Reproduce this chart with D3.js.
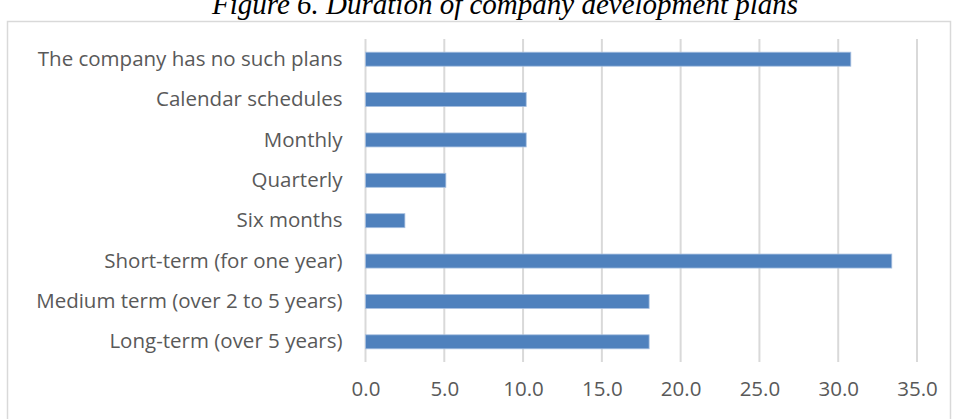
<!DOCTYPE html>
<html>
<head>
<meta charset="utf-8">
<script src="https://cdn.jsdelivr.net/npm/d3@7"></script>
<style>
  body { margin: 0; background: #fff; }
  svg { display: block; }
</style>
</head>
<body>
<div id="chart"></div>
<script>
// duration of company development plans (share of companies, %)
var categories = [
  'The company has no such plans',
  'Calendar schedules',
  'Monthly',
  'Quarterly',
  'Six months',
  'Short-term (for one year)',
  'Medium term (over 2 to 5 years)',
  'Long-term (over 5 years)'
];
var values = [30.8, 10.2, 10.2, 5.1, 2.5, 33.4, 18.0, 18.0];
var tickValues = [0, 5, 10, 15, 20, 25, 30, 35];

var width = 956, height = 419;
var margin = { top: 39, right: 39, bottom: 57, left: 365.5 };

var svg = d3.select('#chart').append('svg')
    .attr('width', width)
    .attr('height', height);

// chart frame
svg.append('rect')
    .attr('x', 7.5)
    .attr('y', 21.5)
    .attr('width', 943)
    .attr('height', 420)
    .attr('fill', 'none')
    .attr('stroke', '#d9d9d9')
    .attr('stroke-width', 1.5);

// title, cropped at the top as in the source page
svg.append('text')
    .attr('x', 505)
    .attr('y', 14)
    .attr('text-anchor', 'middle')
    .style('font-family', '"Liberation Serif", "Times New Roman", serif')
    .style('font-style', 'italic')
    .style('font-size', '29px')
    .text('Figure 6. Duration of company development plans');

var x = d3.scaleLinear()
    .domain([0, 35])
    .range([margin.left, width - margin.right]);

var y = d3.scaleBand()
    .domain(categories)
    .range([margin.top, height - margin.bottom])
    .paddingInner(0.653)
    .paddingOuter(0.3265);

// gridlines
svg.append('g')
  .selectAll('line')
    .data(tickValues).enter()
  .append('line')
    .attr('x1', function (d) { return x(d); })
    .attr('x2', function (d) { return x(d); })
    .attr('y1', margin.top)
    .attr('y2', height - margin.bottom)
    .attr('stroke', '#d9d9d9')
    .attr('stroke-width', 2);

// bars
svg.append('g')
  .selectAll('rect')
    .data(values).enter()
  .append('rect')
    .attr('x', x(0))
    .attr('y', function (d, i) { return y(categories[i]); })
    .attr('width', function (d) { return x(d) - x(0); })
    .attr('height', y.bandwidth())
    .attr('fill', '#4f81bd')
    .attr('stroke', '#a8c0e0')
    .attr('stroke-width', 0.8);

var fontFam = '"Open Sans", "Noto Sans", sans-serif';

// category labels
var yAxis = d3.axisLeft(y).tickSize(0).tickPadding(23);
var gy = svg.append('g')
    .attr('transform', 'translate(' + margin.left + ',0)')
    .call(yAxis);
gy.select('.domain').remove();
gy.selectAll('text')
    .style('font-family', fontFam)
    .style('font-size', '20.5px')
    .attr('fill', '#595959');

// value axis labels
var xAxis = d3.axisBottom(x)
    .tickValues(tickValues)
    .tickFormat(d3.format('.1f'))
    .tickSize(0)
    .tickPadding(19);
var gx = svg.append('g')
    .attr('transform', 'translate(0,' + (height - margin.bottom) + ')')
    .call(xAxis);
gx.select('.domain').remove();
gx.selectAll('text')
    .style('font-family', fontFam)
    .style('font-size', '20.5px')
    .attr('fill', '#595959');
</script>
</body>
</html>
